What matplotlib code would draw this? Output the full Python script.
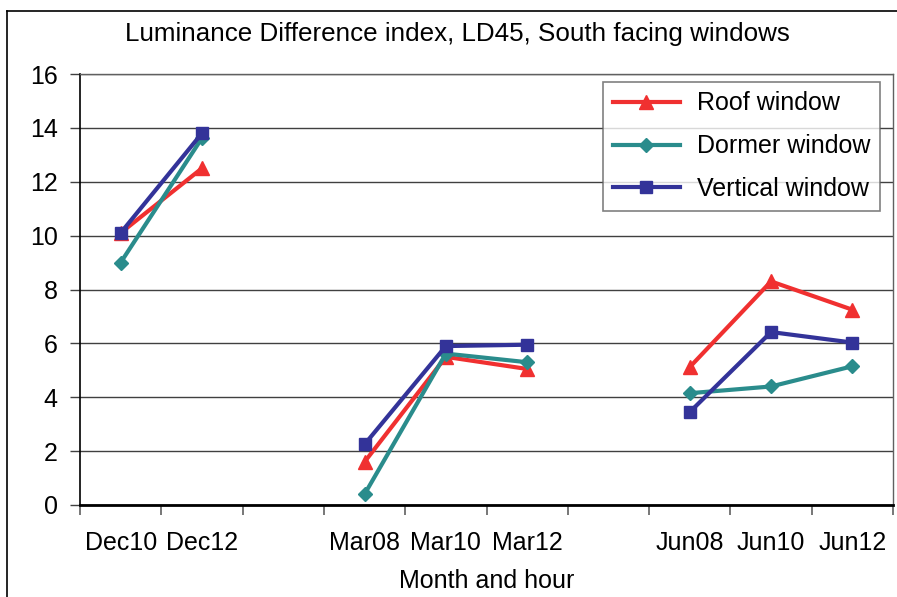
import numpy as np
import matplotlib
matplotlib.use("Agg")
import matplotlib.pyplot as plt
from matplotlib.lines import Line2D

plt.rcParams['font.family'] = ['Liberation Sans', 'DejaVu Sans']

categories = ["Dec10", "Dec12", "", "Mar08", "Mar10", "Mar12", "", "Jun08", "Jun10", "Jun12"]
roof = [10.1, 12.5, np.nan, 1.6, 5.5, 5.05, np.nan, 5.12, 8.3, 7.25]
dormer = [9.0, 13.62, np.nan, 0.4, 5.62, 5.3, np.nan, 4.15, 4.4, 5.15]
vertical = [10.1, 13.8, np.nan, 2.25, 5.9, 5.95, np.nan, 3.45, 6.42, 6.03]
yticks = [0, 2, 4, 6, 8, 10, 12, 14, 16]

W, H = 897, 597
FS = 18
fig = plt.figure(figsize=(W / 100, H / 100), dpi=100)
ax = fig.add_axes([80 / W, 1 - 505 / H, (893 - 80) / W, (505 - 74) / H])

x = np.arange(len(categories))
ax.plot(x, roof, color="#F03030", lw=3, marker="^", ms=10, label="Roof window", zorder=3)
ax.plot(x, dormer, color="#2A8C8C", lw=3, marker="D", ms=7.5, label="Dormer window", zorder=3)
ax.plot(x, vertical, color="#333399", lw=3, marker="s", ms=8, label="Vertical window", zorder=3)

ax.set_xlim(-0.5, len(categories) - 0.5)
ax.set_ylim(0, 16)
ax.set_yticks(yticks)
ax.set_yticklabels([str(v) for v in yticks], fontsize=FS)
ax.set_xticks(x)
ax.set_xticklabels(categories, fontsize=FS)
ax.set_xticks(np.arange(-0.5, len(categories), 1.0), minor=True)
ax.tick_params(axis="x", which="major", length=0, pad=19)
ax.tick_params(axis="x", which="minor", length=7, width=1.2, color="#606060", direction="out")
ax.tick_params(axis="y", length=7, width=1, color="#404040", pad=9)

ax.yaxis.grid(True, color="#404040", lw=1)
ax.set_axisbelow(True)
for s in ["top", "right"]:
    ax.spines[s].set_color("#606060")
    ax.spines[s].set_linewidth(1)
ax.spines["left"].set_color("black")
ax.spines["left"].set_linewidth(1.2)
ax.spines["bottom"].set_color("black")
ax.spines["bottom"].set_linewidth(2)

ax.set_xlabel("Month and hour", fontsize=FS, labelpad=10)
fig.text(457 / W, 1 - 34 / H, "Luminance Difference index, LD45, South facing windows",
         fontsize=18.7, ha="center", va="center")

leg = ax.legend(loc="upper left", bbox_to_anchor=(603 / W, 1 - 82 / H), bbox_transform=fig.transFigure,
                borderaxespad=0, fontsize=FS, frameon=True, fancybox=False,
                handlelength=2.7, handletextpad=0.68, labelspacing=0.75, borderpad=0.38)
leg.get_frame().set_edgecolor("#606060")
leg.get_frame().set_linewidth(1.2)

# outer chart border
fig.add_artist(Line2D([7 / W, 7 / W], [0, 1 - 11 / H], transform=fig.transFigure, color="black", lw=1.2))
fig.add_artist(Line2D([7 / W, 1], [1 - 11 / H, 1 - 11 / H], transform=fig.transFigure, color="black", lw=1.2))

fig.savefig("out.png", dpi=100)
